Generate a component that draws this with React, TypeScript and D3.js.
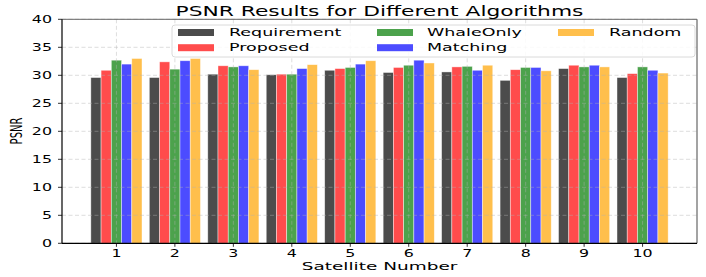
import React from 'react';
import * as d3 from 'd3';

const satellites = [1, 2, 3, 4, 5, 6, 7, 8, 9, 10];
const seriesNames = ['Requirement', 'Proposed', 'WhaleOnly', 'Matching', 'Random'];
const requirement = [29.6, 29.6, 30.2, 30.1, 30.9, 30.5, 30.6, 29.1, 31.2, 29.6];
const proposed = [30.9, 32.4, 31.7, 30.2, 31.2, 31.4, 31.5, 31.0, 31.8, 30.3];
const whaleOnly = [32.7, 31.1, 31.5, 30.2, 31.4, 31.8, 31.6, 31.4, 31.5, 31.5];
const matching = [32.0, 32.6, 31.7, 31.2, 32.0, 32.7, 30.9, 31.4, 31.8, 30.9];
const random = [33.0, 33.0, 31.0, 31.9, 32.6, 32.2, 31.8, 30.8, 31.5, 30.4];
const yTicks = [0, 5, 10, 15, 20, 25, 30, 35, 40];
const colors = ['#4c4c4c', '#ff4c4c', '#4ca24c', '#4c4cff', '#ffbf4c'];

const W = 706;
const H = 277;
const MARGIN = { top: 19.3, right: 9, bottom: 33.7, left: 62 };
const SX = 1.65; // text in the picture is stretched horizontally
const FONT = 'DejaVu Sans, sans-serif';
const BAR_W = 0.175;

const Label = ({ x, y, size, anchor = 'middle', rotate = 0, children, weight = 'normal' }: any) => (
  <text
    transform={`translate(${x},${y}) scale(${SX},1) rotate(${rotate})`}
    fontFamily={FONT}
    fontSize={size}
    fontWeight={weight}
    textAnchor={anchor}
    fill="#000"
  >
    {children}
  </text>
);

export default function App() {
  const series = [requirement, proposed, whaleOnly, matching, random];
  const x = d3.scaleLinear().domain([0.069, 10.931]).range([MARGIN.left, W - MARGIN.right]);
  const y = d3.scaleLinear().domain([0, 40]).range([H - MARGIN.bottom, MARGIN.top]);
  const bw = x(BAR_W) - x(0);

  const legendCols = [
    { swatch: 178, text: 229, rows: [0, 1] },
    { swatch: 377, text: 427, rows: [2, 3] },
    { swatch: 558, text: 609, rows: [4] },
  ];
  const rowY = [32.5, 47.7];

  return (
    <svg width={W} height={H} style={{ position: 'absolute', left: 0, top: 0, background: '#fff' }}>
      {/* bars */}
      {series.map((vals, j) =>
        vals.map((v, i) => {
          const cx = x(satellites[i] + (j - 2) * BAR_W);
          return (
            <rect
              key={`${j}-${i}`}
              x={cx - bw / 2}
              y={y(v)}
              width={bw}
              height={y(0) - y(v)}
              fill={colors[j]}
              stroke="#fff"
              strokeOpacity={0.6}
              strokeWidth={0.7}
            />
          );
        })
      )}

      {/* grid on top */}
      <g stroke="#b0b0b0" strokeOpacity={0.55} strokeDasharray="4,2.5" strokeWidth={0.8}>
        {yTicks.map(t => (
          <line key={`gy${t}`} x1={MARGIN.left} x2={W - MARGIN.right} y1={y(t)} y2={y(t)} />
        ))}
        {satellites.map(s => (
          <line key={`gx${s}`} x1={x(s)} x2={x(s)} y1={MARGIN.top} y2={y(0)} />
        ))}
      </g>

      {/* spines */}
      <line x1={MARGIN.left} x2={W - MARGIN.right} y1={MARGIN.top} y2={MARGIN.top} stroke="#666" strokeWidth={1} />
      <line x1={W - MARGIN.right} x2={W - MARGIN.right} y1={MARGIN.top} y2={y(0)} stroke="#666" strokeWidth={1.2} />
      <line x1={MARGIN.left} x2={MARGIN.left} y1={MARGIN.top} y2={y(0)} stroke="#000" strokeWidth={1.2} />
      <line x1={MARGIN.left} x2={W - MARGIN.right} y1={y(0)} y2={y(0)} stroke="#000" strokeWidth={1.2} />

      {/* y ticks */}
      {yTicks.map(t => (
        <g key={`yt${t}`}>
          <line x1={MARGIN.left - 4} x2={MARGIN.left} y1={y(t)} y2={y(t)} stroke="#000" strokeWidth={0.8} />
          <Label x={52} y={y(t) + 3.5} size={9.6} anchor="end">{t}</Label>
        </g>
      ))}

      {/* x ticks */}
      {satellites.map(s => (
        <g key={`xt${s}`}>
          <line x1={x(s)} x2={x(s)} y1={y(0)} y2={y(0) + 3.5} stroke="#000" strokeWidth={0.8} />
          <Label x={x(s)} y={256.7} size={9.6}>{s}</Label>
        </g>
      ))}

      {/* axis labels and title */}
      <Label x={(MARGIN.left + W - MARGIN.right) / 2} y={270} size={11.2}>Satellite Number</Label>
      <Label x={22} y={131} size={10} rotate={-90}>PSNR</Label>
      <Label x={(MARGIN.left + W - MARGIN.right) / 2} y={15.7} size={13.2} weight={500}>PSNR Results for Different Algorithms</Label>

      {/* legend */}
      <rect x={172} y={25} width={523} height={32} rx={3} fill="#fff" fillOpacity={0.85} stroke="#d0d0d0" strokeWidth={0.8} />
      {legendCols.map((col, c) =>
        col.rows.map((si, r) => (
          <g key={`lg${si}`}>
            <rect x={col.swatch} y={rowY[r] - 3.5} width={36} height={7} fill={colors[si]} />
            <Label x={col.text} y={rowY[r] + 3.7} size={10.6} anchor="start">{seriesNames[si]}</Label>
          </g>
        ))
      )}
    </svg>
  );
}
